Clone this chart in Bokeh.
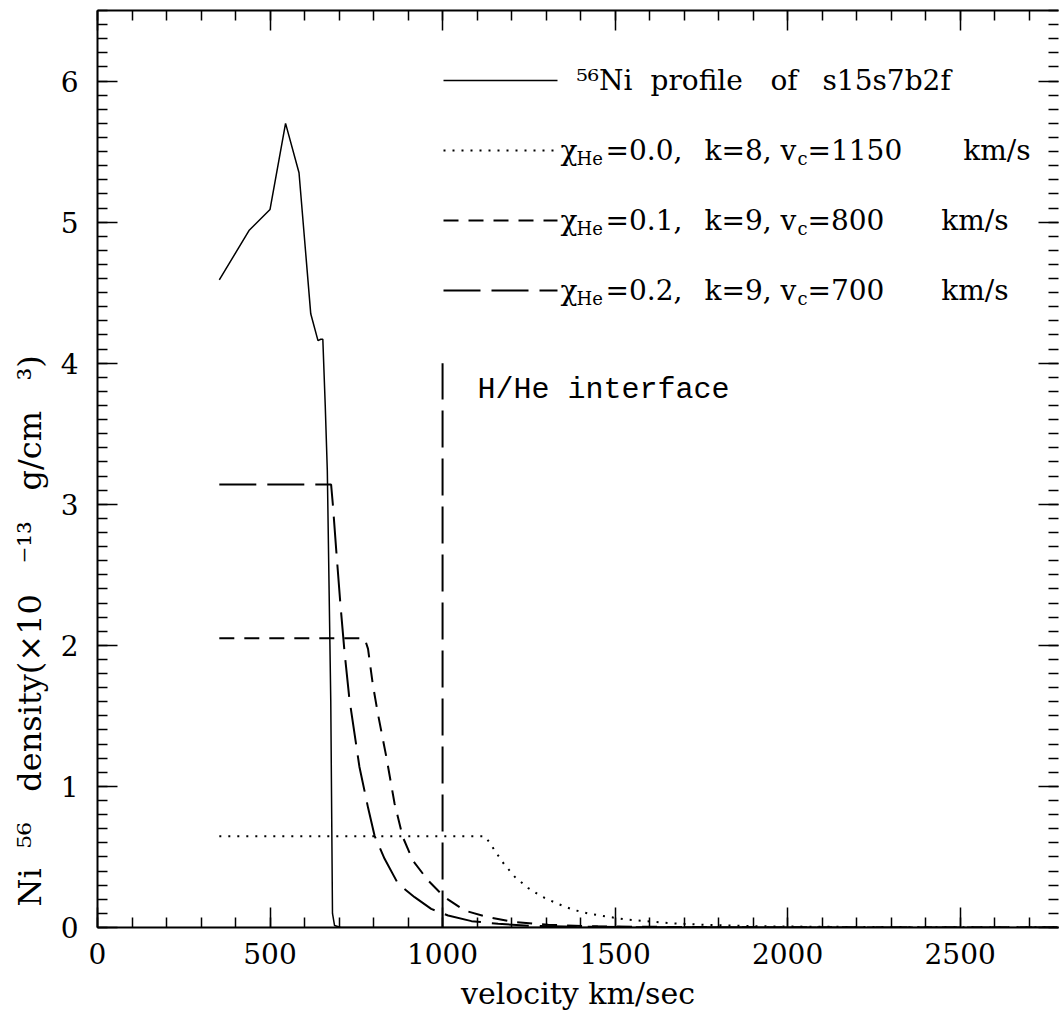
import math
from bokeh.plotting import figure
from bokeh.models import Label, LinearAxis, SingleIntervalTicker, Title, CustomJSTickFormatter
from bokeh.embed import file_html
from bokeh.resources import INLINE

# ---------------- data ----------------
profile_v = [353, 439, 500, 545, 584, 618, 639, 647, 653, 660, 666, 676, 681, 687, 705, 2785]
profile_rho = [4.59, 4.94, 5.09, 5.70, 5.35, 4.35, 4.16, 4.17, 4.17, 3.70, 3.24, 1.61, 0.10, 0.014, 0.0, 0.0]

he00_v = [353, 1122, 1137, 1151, 1178, 1209, 1248, 1287, 1330, 1379, 1427, 1475, 1524, 1587, 1664, 1761, 1906, 2100, 2400, 2785]
he00_rho = [0.647, 0.647, 0.60, 0.546, 0.45, 0.36, 0.28, 0.22, 0.172, 0.125, 0.097, 0.078, 0.059, 0.045, 0.030, 0.019, 0.009, 0.005, 0.002, 0.001]

he01_v = [353, 774, 784, 798, 813, 837, 861, 885, 914, 958, 1006, 1064, 1132, 1209, 1306, 1450, 1700, 2100, 2785]
he01_rho = [2.05, 2.05, 1.975, 1.72, 1.51, 1.21, 0.877, 0.64, 0.475, 0.333, 0.215, 0.12, 0.073, 0.038, 0.019, 0.008, 0.003, 0.001, 0.0]

he02_v = [353, 677, 682, 692, 704, 716, 730, 759, 784, 803, 832, 871, 919, 967, 1016, 1084, 1161, 1258, 1400, 1600, 2000, 2785]
he02_rho = [3.14, 3.14, 3.00, 2.67, 2.29, 1.95, 1.62, 1.14, 0.85, 0.65, 0.487, 0.31, 0.215, 0.132, 0.085, 0.045, 0.026, 0.012, 0.005, 0.002, 0.0005, 0.0]

interface_v = [1000, 1000]
interface_rho = [0.0, 4.0]

legend_main = ["\u2075\u2076Ni", "profile", "of", "s15s7b2f"]
legend_chi = ["=0.0,", "=0.1,", "=0.2,"]
legend_k = ["k=8,", "k=9,", "k=9,"]
legend_vc = ["=1150", "=800", "=700"]

x_ticks_major = 500
y_ticks_major = 1

# ---------------- layout ----------------
FL, FR, FT, FB = 97, 1058, 10, 927
X0, X1, Y0, Y1 = 0, 2785, 0, 6.5
W, H = 1059, 1019

p = figure(width=W, height=H, x_range=(X0, X1), y_range=(Y0, Y1),
           output_backend="svg", toolbar_location=None,
           min_border_left=FL, min_border_right=W - FR,
           min_border_top=FT, min_border_bottom=H - FB,
           x_axis_location=None, y_axis_location=None)
p.outline_line_color = None
p.grid.visible = False
p.background_fill_color = "white"
p.border_fill_color = "white"


def dx(px):
    return X0 + (px - FL) * (X1 - X0) / (FR - FL)


def dy(py):
    return Y0 + (FB - py) * (Y1 - Y0) / (FB - FT)


def style_axis(ax, labels):
    ax.axis_line_width = 2
    ax.axis_line_color = "black"
    ax.major_tick_in = 20
    ax.major_tick_out = 0
    ax.minor_tick_in = 10
    ax.minor_tick_out = 0
    ax.major_tick_line_width = 1.5
    ax.minor_tick_line_width = 1.5
    ax.major_tick_line_color = "black"
    ax.minor_tick_line_color = "black"
    ax.major_label_text_font = "DejaVu Serif"
    ax.major_label_text_font_size = "28px"
    ax.major_label_text_color = "black"
    if not labels:
        ax.formatter = CustomJSTickFormatter(code="return ''")
        ax.major_label_standoff = 0


xt = lambda: SingleIntervalTicker(interval=x_ticks_major, num_minor_ticks=5)
yt = lambda: SingleIntervalTicker(interval=y_ticks_major, num_minor_ticks=10)

bx = LinearAxis(ticker=xt()); style_axis(bx, True)
bx.major_label_standoff = 15
bx.axis_label = "velocity km/sec"
bx.axis_label_text_font = "DejaVu Serif"
bx.axis_label_text_font_size = "30px"
bx.axis_label_text_font_style = "normal"
bx.axis_label_text_color = "black"
bx.axis_label_standoff = 9
tx = LinearAxis(ticker=xt()); style_axis(tx, False)
ly = LinearAxis(ticker=yt()); style_axis(ly, True); ly.major_label_standoff = 19
ry = LinearAxis(ticker=yt()); style_axis(ry, False); ry.axis_line_color = None
p.add_layout(bx, "below")
p.add_layout(tx, "above")
p.add_layout(ly, "left")
p.add_layout(ry, "right")

NB = "\u00a0"
ytitle = Title(text=f"Ni{NB} \u2075\u2076{NB}{NB} density(\u00d710{NB}{NB} \u207b\u00b9\u00b3{NB}{NB} g/cm{NB}{NB} \u00b3)",
               align="left", offset=21, standoff=16, vertical_align="middle",
               text_font="DejaVu Serif", text_font_size="32px", text_font_style="normal",
               text_color="black")
p.add_layout(ytitle, "left")

# ---------------- curves ----------------
p.line(profile_v, profile_rho, line_color="black", line_width=1.5)
p.line(he00_v, he00_rho, line_color="black", line_width=2, line_dash="2 7")
p.line(he01_v, he01_rho, line_color="black", line_width=2, line_dash="15 10")
p.line(he02_v, he02_rho, line_color="black", line_width=2, line_dash="37 11")
p.line(interface_v, interface_rho, line_color="black", line_width=2, line_dash="37 11")


def txt(s, px, py, size, font="DejaVu Serif", align="left", baseline="alphabetic"):
    p.add_layout(Label(x=dx(px), y=dy(py), text=s, text_font=font,
                       text_font_size=f"{size}px", text_align=align,
                       text_baseline=baseline, text_color="black"))


# ---------------- legend ----------------
rows = [80, 150, 220, 290]
styles = [(1.5, "solid", 557), (2, "2 7", 560), (2, "15 10", 557), (2, "37 11", 557)]
for py, (lw, dash, xend) in zip(rows, styles):
    p.line([dx(443), dx(xend)], [dy(py), dy(py)], line_color="black", line_width=lw, line_dash=dash)

for word, px in zip(legend_main, [576, 650, 770, 822]):
    txt(word, px, 80, 28)

for i, py in enumerate(rows[1:]):
    txt("\u03c7", 560, py, 28)
    txt("He", 576, py + 8, 18)
    txt(legend_chi[i], 605, py, 28)
    txt(legend_k[i], 704, py, 28)
    txt("v", 780, py, 28)
    txt("c", 797, py + 8, 18)
    txt(legend_vc[i], 807, py, 28)
    txt("km/s", 1030 if i == 0 else 1008, py, 28, align="right")

txt("H/He interface", 477, 389, 30, font="Liberation Mono")

open("out.html", "w").write(file_html(p, INLINE))
